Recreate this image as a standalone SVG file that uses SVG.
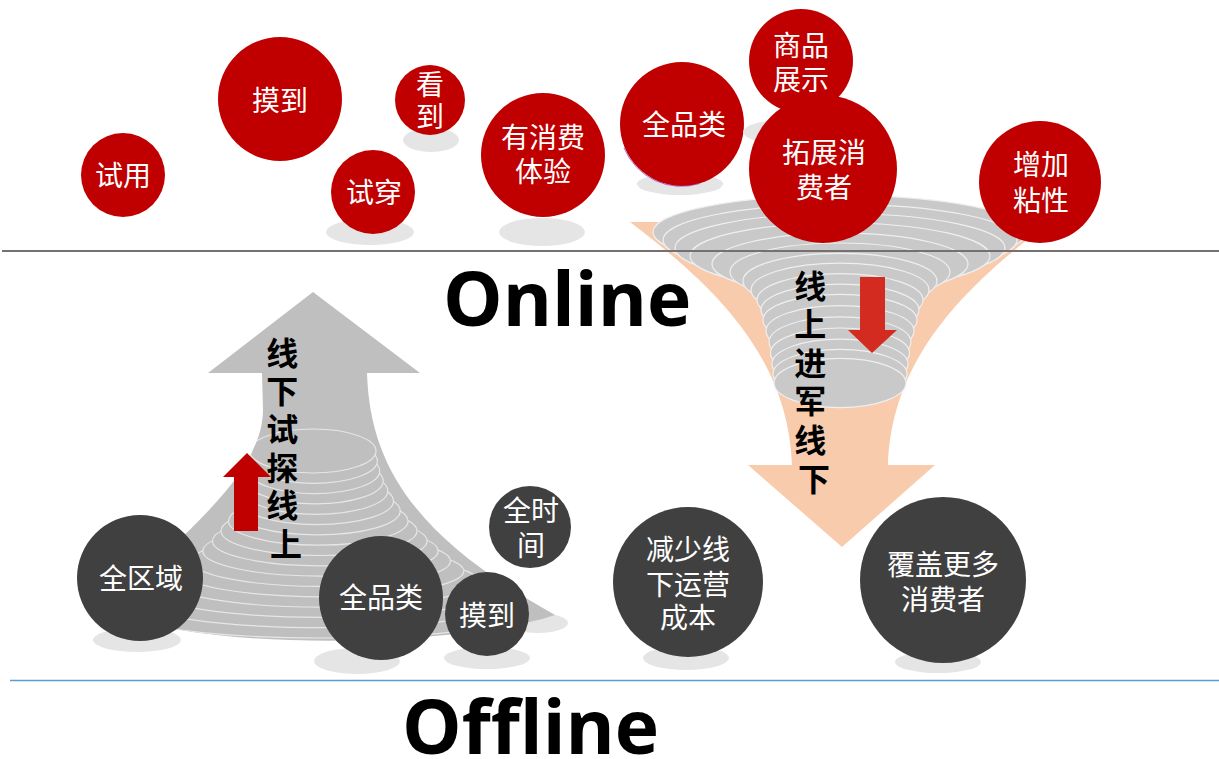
<svg xmlns="http://www.w3.org/2000/svg" width="1219" height="759" viewBox="0 0 1219 759">
  <defs>
    <style>
      .red { fill: #C00000; }
      .dark { fill: #404040; }
      .shadow { fill: #E5E5E5; }
      .lbl { font-family: "Noto Sans CJK SC", "Noto Sans", sans-serif; font-size: 28px; fill: #FFFFFF; text-anchor: middle; }
      .vlbl { font-family: "Noto Sans CJK SC", sans-serif; font-size: 32px; font-weight: bold; fill: #000000; text-anchor: middle; }
      .big { font-family: "Open Sans", "Liberation Sans", sans-serif; font-weight: bold; fill: #000000; }
      .fdisc { fill: #C9C9C9; stroke: #EFEFEF; stroke-width: 1.2; }
      .adisc { fill: #BFBFBF; stroke: #E6E6E6; stroke-width: 1.2; }
    </style>
    <clipPath id="upArrowClip">
      <path d="M262 373 L208 373 L313 292 L420 373 L367 373 C370 470 420 540 555 615 C480 640 300 650 180 630 C150 624 125 612 110 605 C200 520 262 470 263 410 Z"/>
    </clipPath>
  </defs>

  <rect width="1219" height="759" fill="#FFFFFF"/>

  <!-- downward funnel: peach arrow behind a stack of grey discs -->
  <g id="funnel">
    <path d="M630 222 L1050 222 C960 290 892 360 888 465 L935 465 L842 547 L748 465 L792 465 C788 360 720 290 630 222 Z" fill="#F8CBAD"/>
    <ellipse class="fdisc" cx="840" cy="232" rx="187" ry="36.7"/>
    <ellipse class="fdisc" cx="840" cy="240" rx="177" ry="35.7"/>
    <ellipse class="fdisc" cx="840" cy="248" rx="165" ry="34.5"/>
    <ellipse class="fdisc" cx="840" cy="256" rx="150" ry="33"/>
    <ellipse class="fdisc" cx="840" cy="264" rx="128" ry="30.8"/>
    <ellipse class="fdisc" cx="840" cy="272" rx="110" ry="29"/>
    <ellipse class="fdisc" cx="840" cy="281" rx="97" ry="27.7"/>
    <ellipse class="fdisc" cx="840" cy="290" rx="89" ry="26.9"/>
    <ellipse class="fdisc" cx="840" cy="300" rx="83" ry="26.3"/>
    <ellipse class="fdisc" cx="840" cy="310" rx="79" ry="25.9"/>
    <ellipse class="fdisc" cx="840" cy="320" rx="77" ry="25.7"/>
    <ellipse class="fdisc" cx="840" cy="331" rx="74" ry="25.4"/>
    <ellipse class="fdisc" cx="840" cy="342" rx="71" ry="25.1"/>
    <ellipse class="fdisc" cx="840" cy="353" rx="69.5" ry="25"/>
    <ellipse class="fdisc" cx="840" cy="364" rx="68" ry="24.8"/>
    <ellipse class="fdisc" cx="840" cy="374" rx="67" ry="24.7"/>
    <ellipse class="fdisc" cx="840" cy="383" rx="66" ry="24.6"/>
    <path d="M860 277 L885 277 L885 330 L897 330 L872 353 L848 330 L860 330 Z" fill="#D32B1F"/>
    <text class="vlbl">
      <tspan x="814" y="298">线</tspan>
      <tspan x="814" y="336">上</tspan>
      <tspan x="814" y="375">进</tspan>
      <tspan x="814" y="413">军</tspan>
      <tspan x="814" y="452">线</tspan>
      <tspan x="814" y="491">下</tspan>
    </text>
  </g>

  <!-- upward grey arrow with stacked rings -->
  <g id="upArrow">
    <ellipse class="shadow" cx="538" cy="623" rx="30" ry="10"/>
    <path d="M262 373 L208 373 L313 292 L420 373 L367 373 C370 470 420 540 555 615 C480 640 300 650 180 630 C150 624 125 612 110 605 C200 520 262 470 263 410 Z" fill="#BFBFBF"/>
    <g clip-path="url(#upArrowClip)">
      <ellipse class="adisc" cx="325" cy="611" rx="203" ry="27"/>
      <ellipse class="adisc" cx="324.3" cy="601" rx="186" ry="26.7"/>
      <ellipse class="adisc" cx="323.5" cy="591" rx="170.2" ry="26.4"/>
      <ellipse class="adisc" cx="322.8" cy="581" rx="155.4" ry="26.1"/>
      <ellipse class="adisc" cx="322" cy="571" rx="141.8" ry="25.8"/>
      <ellipse class="adisc" cx="321.3" cy="561" rx="129.2" ry="25.4"/>
      <ellipse class="adisc" cx="320.5" cy="551" rx="117.7" ry="25.1"/>
      <ellipse class="adisc" cx="319.8" cy="541" rx="107.3" ry="24.8"/>
      <ellipse class="adisc" cx="319" cy="531" rx="98" ry="24.5"/>
      <ellipse class="adisc" cx="318.3" cy="521" rx="89.8" ry="24.2"/>
      <ellipse class="adisc" cx="317.5" cy="511" rx="82.7" ry="23.9"/>
      <ellipse class="adisc" cx="316.8" cy="501" rx="76.7" ry="23.6"/>
      <ellipse class="adisc" cx="316" cy="491" rx="71.8" ry="23.3"/>
      <ellipse class="adisc" cx="315.3" cy="481" rx="67.9" ry="22.9"/>
      <ellipse class="adisc" cx="314.5" cy="471" rx="65.2" ry="22.6"/>
      <ellipse class="adisc" cx="313.8" cy="461" rx="63.5" ry="22.3"/>
      <ellipse class="adisc" cx="313" cy="451" rx="63" ry="22"/>
    </g>
    <path d="M234 531 L234 477 L223 477 L247 453 L271 477 L258 477 L258 531 Z" fill="#C00000"/>
    <text class="vlbl">
      <tspan x="286" y="365">线</tspan>
      <tspan x="286" y="403">下</tspan>
      <tspan x="286" y="441">试</tspan>
      <tspan x="286" y="480">探</tspan>
      <tspan x="286" y="517">线</tspan>
      <tspan x="286" y="556">上</tspan>
    </text>
  </g>

  <!-- dividing lines and headings -->
  <g id="dividers">
    <line x1="2" y1="251" x2="1219" y2="251" stroke="#767171" stroke-width="2"/>
    <line x1="10" y1="680.5" x2="1219" y2="680.5" stroke="#5B9BD5" stroke-width="1.5"/>
  </g>
  <g id="headings">
    <text class="big" x="443" y="326" font-size="75">Online</text>
    <text class="big" x="402" y="754" font-size="75">Offline</text>
  </g>

  <!-- online nodes -->
  <g id="node-shiyong">
    <circle class="red" cx="123" cy="175" r="42"/>
    <text class="lbl" x="123" y="186">试用</text>
  </g>
  <g id="node-modao-online">
    <circle class="red" cx="280" cy="99" r="62"/>
    <text class="lbl" x="280" y="111">摸到</text>
  </g>
  <g id="node-kandao">
    <ellipse class="shadow" cx="431" cy="140" rx="28" ry="12"/>
    <circle class="red" cx="430" cy="100" r="35"/>
    <text class="lbl" x="430" y="95">看</text>
    <text class="lbl" x="430" y="127">到</text>
  </g>
  <g id="node-shichuan">
    <ellipse class="shadow" cx="370" cy="232" rx="44" ry="13"/>
    <circle class="red" cx="373" cy="192" r="42"/>
    <text class="lbl" x="374" y="203">试穿</text>
  </g>
  <g id="node-xiaofei">
    <ellipse class="shadow" cx="542" cy="232" rx="43" ry="14"/>
    <circle class="red" cx="543" cy="155" r="62"/>
    <text class="lbl" x="543" y="148">有消费</text>
    <text class="lbl" x="543" y="182">体验</text>
  </g>
  <g id="node-quanpinlei-online">
    <ellipse class="shadow" cx="680" cy="184" rx="43" ry="11"/>
    <circle class="red" cx="682" cy="124" r="62"/>
    <path d="M624 148 A62 62 0 0 0 700 183.5" fill="none" stroke="#A030C0" stroke-width="1" opacity="0.7"/>
    <text class="lbl" x="684" y="135">全品类</text>
  </g>
  <g id="node-shangpin">
    <ellipse class="shadow" cx="785" cy="132" rx="42" ry="12"/>
    <circle class="red" cx="801" cy="61" r="52"/>
    <text class="lbl" x="801" y="56">商品</text>
    <text class="lbl" x="801" y="90">展示</text>
  </g>
  <g id="node-tuozhan">
    <circle class="red" cx="823" cy="169" r="74"/>
    <text class="lbl" x="824" y="163">拓展消</text>
    <text class="lbl" x="824" y="198">费者</text>
  </g>
  <g id="node-zengjia">
    <circle class="red" cx="1040" cy="182" r="61"/>
    <text class="lbl" x="1041" y="175">增加</text>
    <text class="lbl" x="1041" y="211">粘性</text>
  </g>

  <!-- offline nodes -->
  <g id="node-quanquyu">
    <ellipse class="shadow" cx="137" cy="640" rx="44" ry="12"/>
    <circle class="dark" cx="140" cy="578" r="63"/>
    <text class="lbl" x="141" y="589">全区域</text>
  </g>
  <g id="node-quanshijian">
    <circle class="dark" cx="530" cy="527" r="41"/>
    <text class="lbl" x="531" y="521">全时</text>
    <text class="lbl" x="531" y="556">间</text>
  </g>
  <g id="node-quanpinlei-offline">
    <ellipse class="shadow" cx="357" cy="661" rx="43" ry="13"/>
    <circle class="dark" cx="381" cy="598" r="62"/>
    <text class="lbl" x="381" y="608">全品类</text>
  </g>
  <g id="node-modao-offline">
    <ellipse class="shadow" cx="487" cy="658" rx="43" ry="11"/>
    <circle class="dark" cx="487" cy="614" r="42"/>
    <text class="lbl" x="487" y="626">摸到</text>
  </g>
  <g id="node-jianshao">
    <ellipse class="shadow" cx="686" cy="658" rx="43" ry="12"/>
    <circle class="dark" cx="688" cy="582" r="75"/>
    <text class="lbl" x="688" y="560">减少线</text>
    <text class="lbl" x="688" y="595">下运营</text>
    <text class="lbl" x="688" y="628">成本</text>
  </g>
  <g id="node-fugai">
    <ellipse class="shadow" cx="938" cy="662" rx="43" ry="11"/>
    <circle class="dark" cx="943" cy="580" r="83"/>
    <text class="lbl" x="943" y="575">覆盖更多</text>
    <text class="lbl" x="943" y="610">消费者</text>
  </g>
</svg>
